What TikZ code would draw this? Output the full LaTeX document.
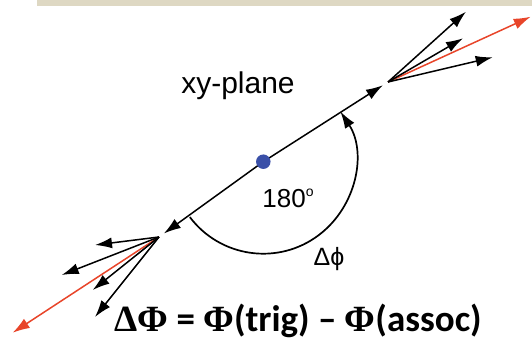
\documentclass[tikz,border=0pt]{standalone}
\usepackage{fontspec}
\setmainfont{Liberation Sans}
\newfontfamily\calfont{Carlito}
\newfontfamily\grfont{Liberation Serif}
\usetikzlibrary{arrows.meta}
\definecolor{band}{HTML}{DED8C3}
\definecolor{arrred}{HTML}{E8452A}
\definecolor{dotblue}{HTML}{3A50A8}
\newcommand{\gk}[1]{{\grfont\bfseries #1}}
\begin{document}
\begin{tikzpicture}[x=1pt,y=-1pt,
  vec/.style={line width=1.5pt,-{Latex[length=17pt,width=11pt]}},
  redvec/.style={vec,draw=arrred,fill=arrred},
  lbl/.style={inner sep=0pt,anchor=center}]
\useasboundingbox (0,0) rectangle (532,339);
\fill[band] (37,0) rectangle (532,6);
% points
\coordinate (o1) at (388,82);
\coordinate (o2) at (159,237);
\coordinate (cc) at (263.3,161.7);
% upper-right burst
\coordinate (u1) at (466,11.7);
\coordinate (u2) at (463,38.3);
\coordinate (u3) at (492.7,57.3);
\coordinate (ur) at (530.7,16.7);
% lower-left burst
\coordinate (l1) at (95,245);
\coordinate (l2) at (61.7,275);
\coordinate (l3) at (92.7,290);
\coordinate (l4) at (95,317);
\coordinate (lr) at (12.7,332.7);
% main line
\draw[vec,shorten >=6pt] (cc) -- (o1);
\draw[vec,shorten >=6pt] (cc) -- (o2);
% bursts
\draw[redvec] (o1) -- (ur);
\draw[vec] (o1) -- (u1);
\draw[vec] (o1) -- (u2);
\draw[vec] (o1) -- (u3);
\draw[redvec] (o2) -- (lr);
\draw[vec] (o2) -- (l1);
\draw[vec] (o2) -- (l2);
\draw[vec] (o2) -- (l3);
\draw[vec] (o2) -- (l4);
% angle arc
\draw[vec,line width=1.7pt] (cc) ++(143:92) arc[start angle=143,end angle=-33.1,radius=92];
% dot
\node[circle,fill=dotblue,inner sep=0pt,minimum size=14.5pt] (c) at (cc) {};
% labels
\node[lbl,font=\fontsize{30}{31}\selectfont] (xy) at (238,86) {xy-plane};
\node[lbl,font=\fontsize{26}{27}\selectfont] (deg) at (288,198) {180\raisebox{0.42em}{\fontsize{14}{14}\selectfont o}};
\node[lbl,font=\fontsize{25}{26}\selectfont] (dphi) at (329,259) {Δϕ};
\node[inner sep=0pt,anchor=base,font=\fontsize{37}{39}\selectfont] (eq) at (298,331) {\calfont\bfseries \gk{ΔΦ} = \gk{Φ}(trig) – \gk{Φ}(assoc)};
\end{tikzpicture}
\end{document}
